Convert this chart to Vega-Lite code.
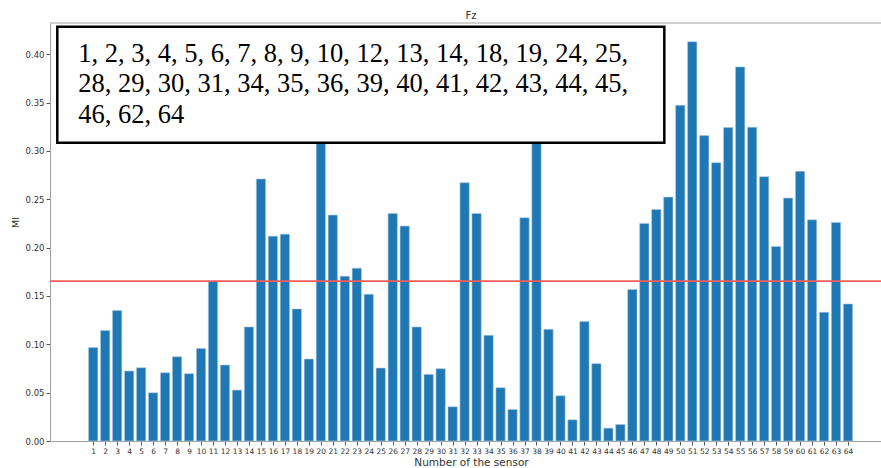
{
  "$schema": "https://vega.github.io/schema/vega-lite/v6.json",
  "width": 831,
  "height": 418,
  "autosize": {"type": "none"},
  "padding": {"left": 50, "top": 23, "right": 0, "bottom": 27},
  "background": "white",
  "title": {"text": "Fz", "fontSize": 10, "font": "DejaVu Sans", "fontWeight": "normal", "color": "#333333", "dx": 5.5, "offset": 2},
  "config": {
    "view": {"stroke": null},
    "axis": {"grid": false, "labelFont": "DejaVu Sans", "titleFont": "DejaVu Sans", "labelColor": "#333333", "titleColor": "#333333", "titleFontWeight": "normal", "domainColor": "#a0a0a0", "tickColor": "#555555"}
  },
  "data": {"values": [
    {"sensor": 1, "mi": 0.0966}, {"sensor": 2, "mi": 0.1142}, {"sensor": 3, "mi": 0.1349}, {"sensor": 4, "mi": 0.0724},
    {"sensor": 5, "mi": 0.0758}, {"sensor": 6, "mi": 0.0499}, {"sensor": 7, "mi": 0.0706}, {"sensor": 8, "mi": 0.0872},
    {"sensor": 9, "mi": 0.0696}, {"sensor": 10, "mi": 0.0958}, {"sensor": 11, "mi": 0.1655}, {"sensor": 12, "mi": 0.0786},
    {"sensor": 13, "mi": 0.0527}, {"sensor": 14, "mi": 0.118}, {"sensor": 15, "mi": 0.271}, {"sensor": 16, "mi": 0.2119},
    {"sensor": 17, "mi": 0.214}, {"sensor": 18, "mi": 0.1366}, {"sensor": 19, "mi": 0.0848}, {"sensor": 20, "mi": 0.34},
    {"sensor": 21, "mi": 0.2337}, {"sensor": 22, "mi": 0.1705}, {"sensor": 23, "mi": 0.1788}, {"sensor": 24, "mi": 0.1518},
    {"sensor": 25, "mi": 0.0755}, {"sensor": 26, "mi": 0.2354}, {"sensor": 27, "mi": 0.2223}, {"sensor": 28, "mi": 0.118},
    {"sensor": 29, "mi": 0.0689}, {"sensor": 30, "mi": 0.0748}, {"sensor": 31, "mi": 0.0354}, {"sensor": 32, "mi": 0.2672},
    {"sensor": 33, "mi": 0.2354}, {"sensor": 34, "mi": 0.1093}, {"sensor": 35, "mi": 0.0551}, {"sensor": 36, "mi": 0.0326},
    {"sensor": 37, "mi": 0.2309}, {"sensor": 38, "mi": 0.33}, {"sensor": 39, "mi": 0.1155}, {"sensor": 40, "mi": 0.0468},
    {"sensor": 41, "mi": 0.0219}, {"sensor": 42, "mi": 0.1235}, {"sensor": 43, "mi": 0.08}, {"sensor": 44, "mi": 0.0133},
    {"sensor": 45, "mi": 0.0171}, {"sensor": 46, "mi": 0.1567}, {"sensor": 47, "mi": 0.2251}, {"sensor": 48, "mi": 0.2396},
    {"sensor": 49, "mi": 0.2523}, {"sensor": 50, "mi": 0.3473}, {"sensor": 51, "mi": 0.413}, {"sensor": 52, "mi": 0.3159},
    {"sensor": 53, "mi": 0.2879}, {"sensor": 54, "mi": 0.3242}, {"sensor": 55, "mi": 0.387}, {"sensor": 56, "mi": 0.3246},
    {"sensor": 57, "mi": 0.2734}, {"sensor": 58, "mi": 0.2012}, {"sensor": 59, "mi": 0.2513}, {"sensor": 60, "mi": 0.279},
    {"sensor": 61, "mi": 0.2288}, {"sensor": 62, "mi": 0.1332}, {"sensor": 63, "mi": 0.2261}, {"sensor": 64, "mi": 0.1418}
  ]},
  "layer": [
    {
      "mark": {"type": "bar", "color": "#1f77b4", "width": 9.3, "stroke": "#a9c9e3", "strokeWidth": 0.6},
      "encoding": {
        "x": {
          "field": "sensor", "type": "quantitative",
          "scale": {"domain": [-2.606, 66.755], "nice": false, "zero": false, "padding": 0},
          "axis": {
            "orient": "bottom",
            "values": [1,2,3,4,5,6,7,8,9,10,11,12,13,14,15,16,17,18,19,20,21,22,23,24,25,26,27,28,29,30,31,32,33,34,35,36,37,38,39,40,41,42,43,44,45,46,47,48,49,50,51,52,53,54,55,56,57,58,59,60,61,62,63,64],
            "tickCount": 100, "format": "d",
            "labelAngle": 0, "labelOverlap": false, "labelBound": false, "labelFlush": false,
            "labelFontSize": 7.5, "labelPadding": 2, "tickSize": 4,
            "title": "Number of the sensor", "titleFontSize": 10.5, "titleX": 421, "titleY": 24.5, "titleBaseline": "alphabetic", "titleAnchor": "middle"
          }
        },
        "y": {
          "field": "mi", "type": "quantitative",
          "scale": {"domain": [0, 0.4324], "nice": false, "zero": true, "padding": 0},
          "axis": {
            "values": [0, 0.05, 0.1, 0.15, 0.2, 0.25, 0.3, 0.35, 0.4], "format": ".2f", "tickCount": 20,
            "labelFontSize": 8.5, "labelPadding": 2, "tickSize": 4,
            "title": "MI", "titleFontSize": 9.5, "titleX": -35, "titleY": 199, "titleBaseline": "middle", "titleAlign": "center"
          }
        }
      }
    },
    {
      "data": {"values": [{}]},
      "mark": {"type": "rule", "color": "#a0a0a0", "strokeWidth": 1},
      "encoding": {"y": {"datum": 0.4324}}
    },
    {
      "data": {"values": [{}]},
      "mark": {"type": "rule", "color": "#f25c5c", "strokeWidth": 1.8},
      "encoding": {"y": {"datum": 0.1653}}
    },
    {
      "data": {"values": [{}]},
      "mark": {"type": "rect", "fill": "white", "stroke": "black", "strokeWidth": 2.5},
      "encoding": {
        "x": {"datum": -1.997},
        "x2": {"datum": 48.67},
        "y": {"datum": 0.4286},
        "y2": {"datum": 0.3085}
      }
    },
    {
      "data": {"values": [{}]},
      "mark": {
        "type": "text",
        "text": ["1, 2, 3, 4, 5, 6, 7, 8, 9, 10, 12, 13, 14, 18, 19, 24, 25,", "28, 29, 30, 31, 34, 35, 36, 39, 40, 41, 42, 43, 44, 45,", "46, 62, 64"],
        "font": "Liberation Serif", "fontSize": 26.5, "lineHeight": 30.5,
        "align": "left", "baseline": "alphabetic", "color": "black"
      },
      "encoding": {"x": {"datum": -0.244}, "y": {"datum": 0.3923}}
    }
  ]
}
